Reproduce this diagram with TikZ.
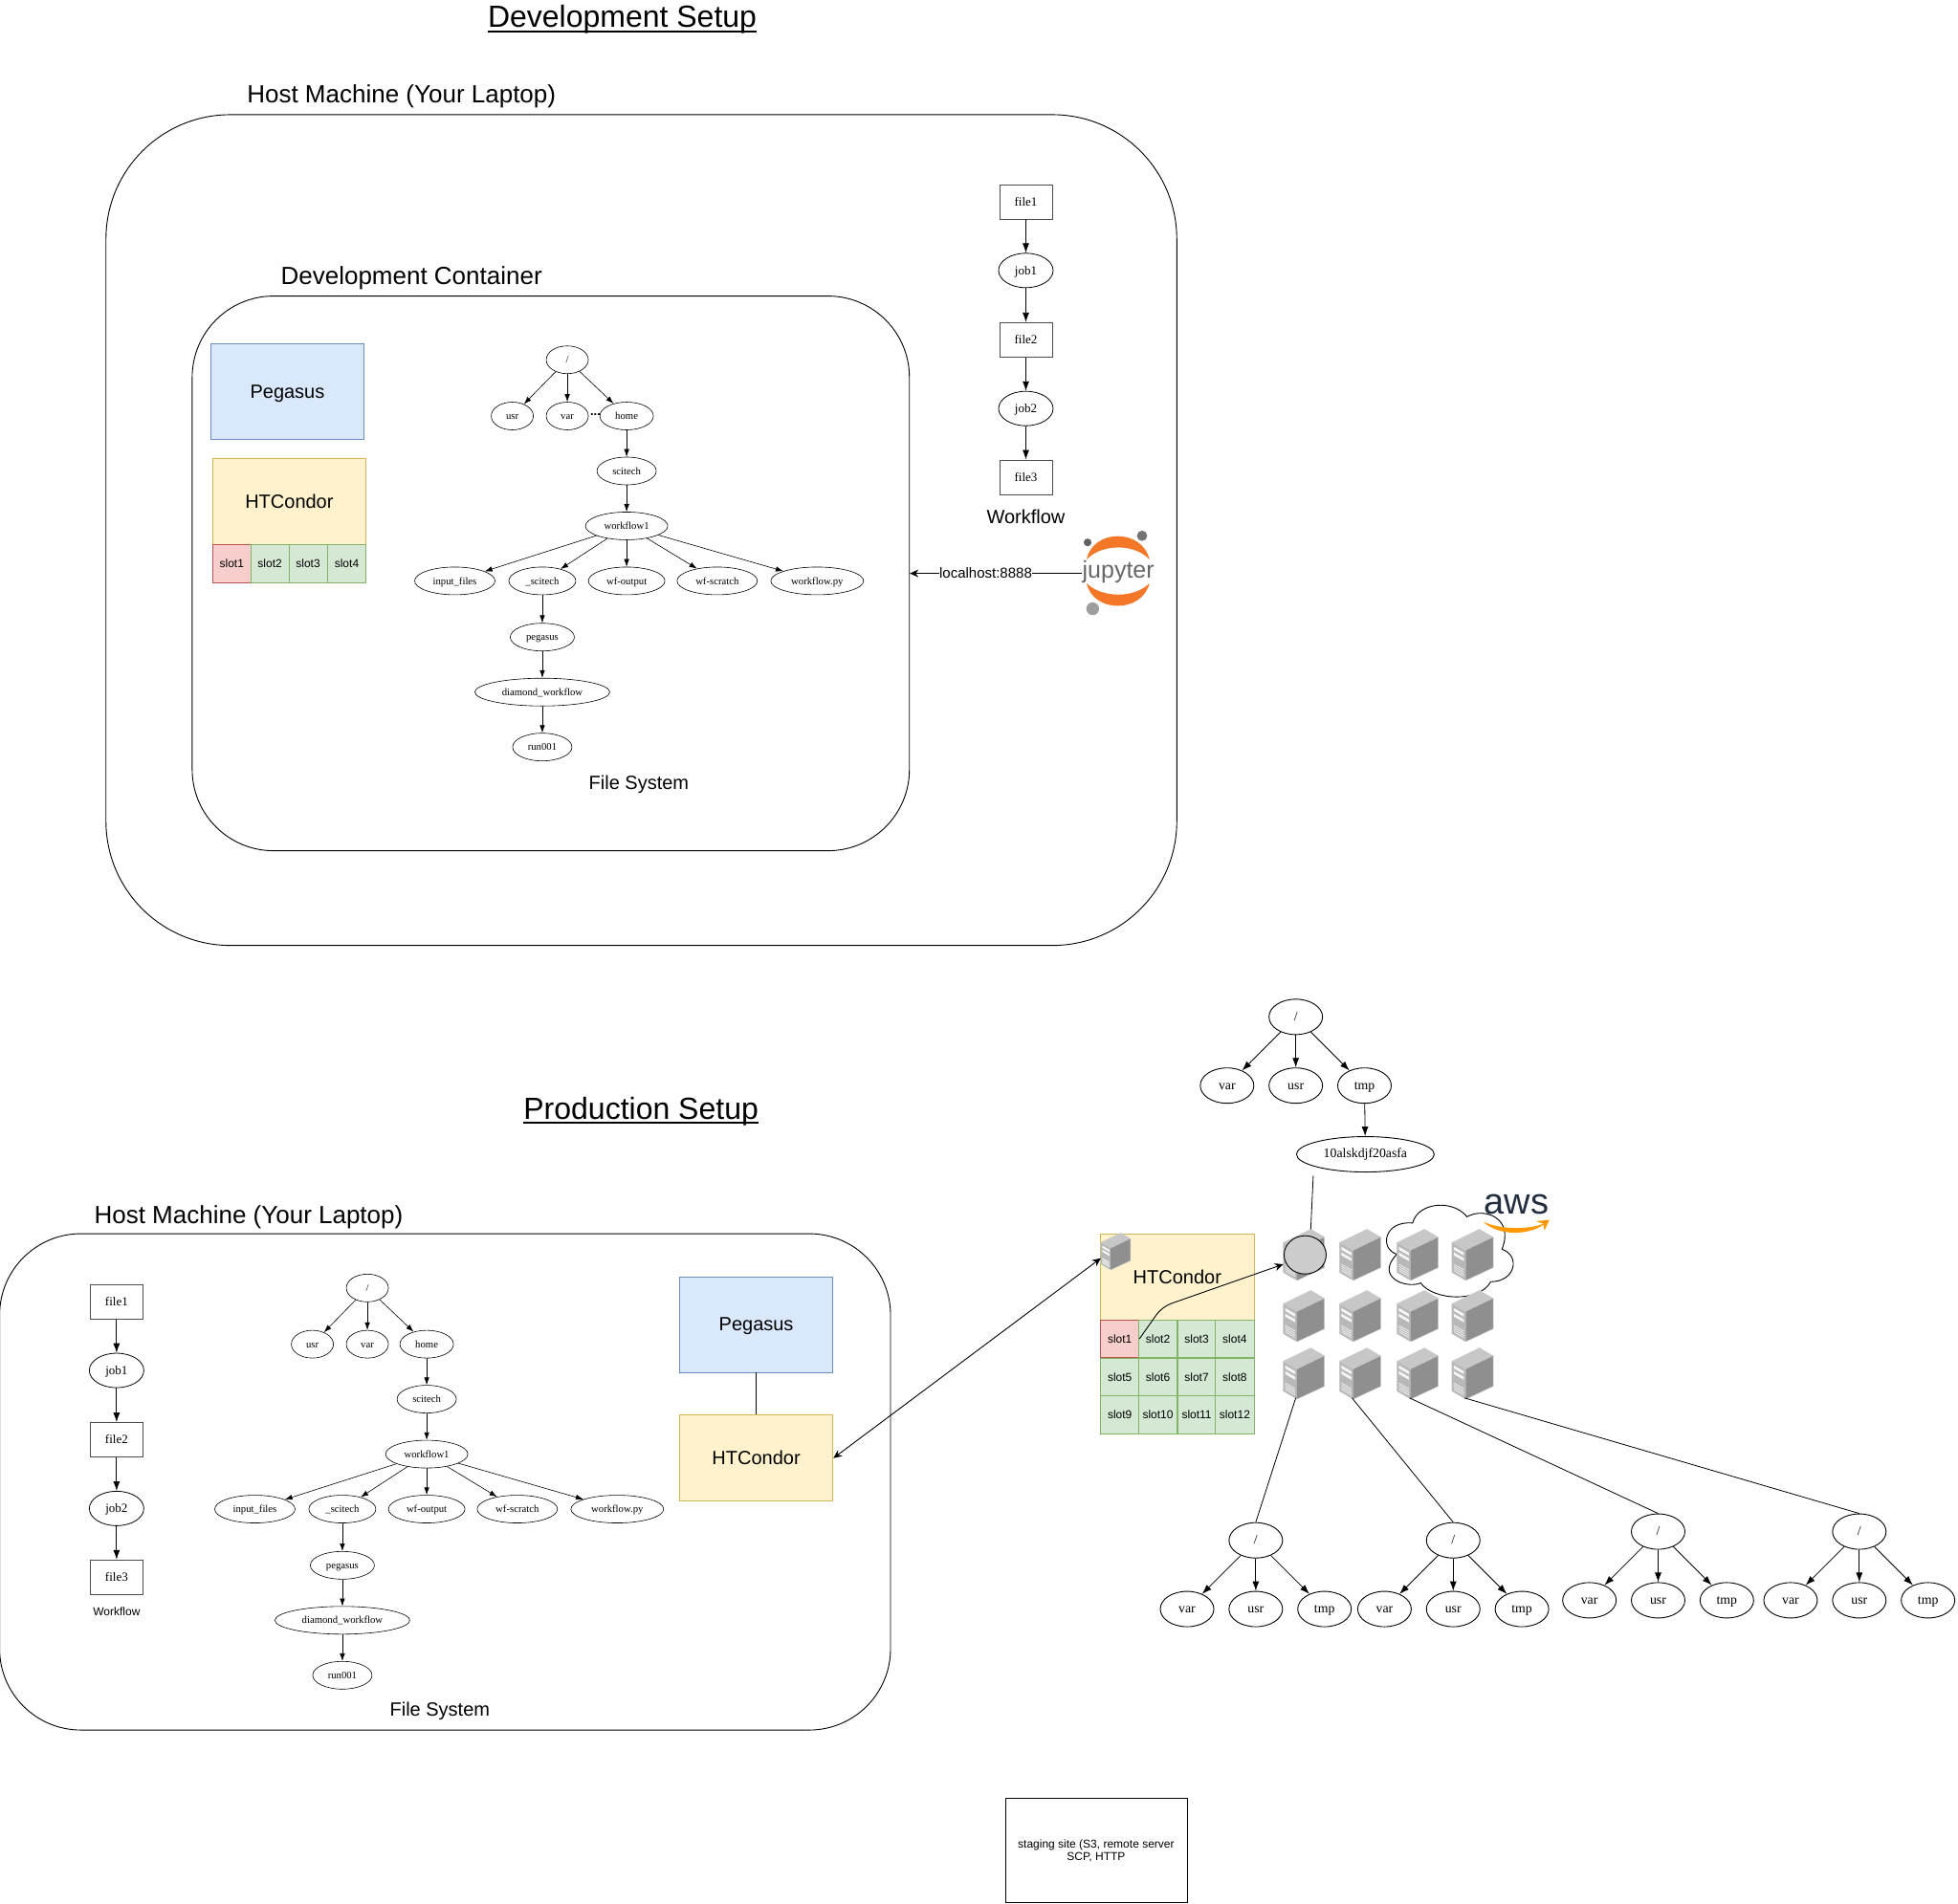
\documentclass[tikz,border=0pt]{standalone}
\usepackage{fontspec}
\usetikzlibrary{arrows.meta,shapes.geometric}
\setmainfont{Liberation Sans}
\newfontfamily\timesfont{Liberation Serif}
\newcommand{\fsize}[1]{\fontsize{#1}{#1}\selectfont}
% underline that lets the descenders hang through
\newcommand{\ultext}[1]{\setbox0=\hbox{#1}\rlap{\rule[-5.4pt]{\wd0}{2pt}}\box0}

\definecolor{bluefill}{HTML}{DAE8FC}
\definecolor{bluedraw}{HTML}{6C8EBF}
\definecolor{yellowfill}{HTML}{FFF2CC}
\definecolor{yellowdraw}{HTML}{D6B656}
\definecolor{greenfill}{HTML}{D5E8D4}
\definecolor{greendraw}{HTML}{82B366}
\definecolor{redfill}{HTML}{F8CECC}
\definecolor{reddraw}{HTML}{B85450}
\definecolor{jupyterorange}{HTML}{F37726}
\definecolor{awsnavy}{HTML}{232F3E}
\definecolor{awsorange}{HTML}{FF9900}

\tikzset{
    title/.style={anchor=base,inner sep=0pt,font=\fsize{32}},
    heading/.style={font=\fsize{26}},
    caption/.style={font=\fsize{20}},
    hostbox/.style={draw,line width=.9pt,rounded corners=#1,inner sep=0pt},
    pegasusbox/.style={draw=bluedraw,fill=bluefill,line width=.9pt,inner sep=0pt,font=\fsize{20},
        text depth=0pt,minimum width=160.5pt,minimum height=100pt},
    condorbox/.style={draw=yellowdraw,fill=yellowfill,line width=.9pt,inner sep=0pt,font=\fsize{20},
        minimum width=160.5pt,minimum height=90pt},
    slotbox/.style={draw=greendraw,fill=greenfill,line width=.9pt,inner sep=0pt,font=\fsize{12},
        minimum width=40.1pt,minimum height=39.7pt},
    busyslot/.style={slotbox,draw=reddraw,fill=redfill},
    fsnode/.style={draw,ellipse,inner sep=0pt,line width=.6pt,font=\timesfont\fsize{10.7},
        text height=9.4pt,text depth=2.2pt,minimum height=29pt},
    fsarrow/.style={-{Latex[length=8pt,width=5.5pt]},line width=.6pt},
    jobnode/.style={draw,ellipse,inner sep=0pt,line width=.8pt,font=\timesfont\fsize{13},
        text height=11pt,text depth=2.6pt,minimum width=57pt,minimum height=36pt},
    filenode/.style={draw=black!70,rectangle,inner sep=0pt,line width=.9pt,font=\timesfont\fsize{13},
        text height=11pt,text depth=2.6pt,minimum width=55pt,minimum height=36pt},
    wfarrow/.style={-{Latex[length=10pt,width=7pt]},line width=.8pt},
    dirnode/.style={draw,ellipse,inner sep=0pt,line width=.9pt,font=\timesfont\fsize{13.8},
        text height=10.6pt,text depth=2.8pt,minimum width=56pt,minimum height=37pt},
    conn/.style={-{Stealth[length=9pt,width=8pt]},line width=.9pt},
    server/.pic={
        \fill[black!22] (0,10.7) -- (22,0) -- (33,6.4) -- (11,17) -- cycle;
        \fill[black!28] (0,10.7) -- (11,17) -- (11,41) -- (0,34.6) -- cycle;
        \fill[black!44] (11,17) -- (33,6.4) -- (33,30.7) -- (11,41) -- cycle;
        \draw[black!20,line width=.5pt,line join=round] (0,10.7) -- (22,0) -- (33,6.4) -- (33,30.7)
            -- (11,41) -- (0,34.6) -- cycle;
        \foreach \y in {14,18.5}
            \fill[black!4] (1.5,\y) -- (9.5,\y+4.6) -- (9.5,\y+7) -- (1.5,\y+2.4) -- cycle;
        \foreach \y in {28,29.7,31.4,33.1}
            \draw[black!4,line width=.7pt] (1.5,\y) -- (9.5,\y+4.6);
        \coordinate (-bot) at (10,40);
        \coordinate (-top) at (22,0);
        \coordinate (-left) at (0,28);
    }
}

% one copy of the project folder tree
\newcommand{\projecttree}[3]{
    \begin{scope}[shift={(#2,#3)}]
        \node[fsnode,minimum width=44pt] (#1root) at (0,0) {/};
        \foreach \nm/\x/\y/\w/\txt in {
            usr/-44/45/44/usr, var/0/45/44/var, home/47.5/45/56/home,
            scitech/47.5/89/62/scitech, wf/47.5/133/86/workflow1,
            inputs/-90/177/84/input\_files, scratch/-20/177/70/\_scitech,
            output/47.5/177/80/wf-output, wfscratch/120/177/84/wf-scratch,
            wfpy/200/177/97/workflow.py, peg/-20/222/67/pegasus,
            diamond/-20/266/141/diamond\_workflow, run/-20/310/62/run001}
            \node[fsnode,minimum width=\w pt] (#1\nm) at (\x,\y) {\txt};
        \foreach \a/\b in {root/usr,root/var,root/home,home/scitech,scitech/wf,
            wf/inputs,wf/scratch,wf/output,wf/wfscratch,wf/wfpy,
            scratch/peg,peg/diamond,diamond/run}
            \draw[fsarrow] (#1\a) -- (#1\b);
    \end{scope}
}

% the small workflow chain
\newcommand{\workflowchain}[3]{
    \node[filenode] (#1f1) at (#2,#3) {file1};
    \node[jobnode] (#1j1) at (#2,#3+55) {job1};
    \node[filenode] (#1f2) at (#2,#3+110.5) {file2};
    \node[jobnode] (#1j2) at (#2,#3+165.5) {job2};
    \node[filenode] (#1f3) at (#2,#3+220.5) {file3};
    \draw[wfarrow] (#1f1) -- (#1j1);
    \draw[wfarrow] (#1j1) -- (#1f2);
    \draw[wfarrow] (#1f2) -- (#1j2);
    \draw[wfarrow] (#1j2) -- (#1f3);
}

% scratch disk of one worker
\newcommand{\workertree}[3]{
    \node[dirnode] (#1root) at (#2,#3) {/};
    \node[dirnode] (#1var) at (#2-55,#3+55) {var};
    \node[dirnode] (#1usr) at (#2,#3+55) {usr};
    \node[dirnode] (#1tmp) at (#2+55,#3+55) {tmp};
    \draw[wfarrow] (#1root) -- (#1var);
    \draw[wfarrow] (#1root) -- (#1usr);
    \draw[wfarrow] (#1root) -- (#1tmp);
}

\begin{document}
\begin{tikzpicture}[x=1.3063pt,y=-1.3063pt]
    \useasboundingbox (0,0) rectangle (1567,1523.4);

    % development setup
    \node[title] (devtitle) at (498,21.7) {\ultext{Development Setup}};
    \node[hostbox=130pt,minimum width=1119.5pt,minimum height=868.7pt] (devhost) at (513.3,424.3) {};
    \node[heading] (devhostlabel) at (321.3,77.5) {Host Machine (Your Laptop)};
    \node[hostbox=85pt,minimum width=749.8pt,minimum height=580pt] (devcontainer) at (440.8,459) {};
    \node[heading] (devcontainerlabel) at (329.3,222.5) {Development Container};

    \node[pegasusbox] (devpegasus) at (230,313.7) {Pegasus};
    \node[condorbox] (devcondor) at (231.5,401.5) {HTCondor};
    \node[busyslot] (devslot1) at (185.5,451.2) {slot1};
    \foreach \n/\x in {2/216,3/246.5,4/277.5}
        \node[slotbox] (devslot\n) at (\x,451.2) {slot\n};

    \projecttree{dev}{454}{288}
    \node[inner sep=0pt,font=\bfseries\fsize{13}] (devdots) at (476.5,331.5) {...};
    \node[caption] (devfslabel) at (511.3,628) {File System};

    \workflowchain{dev}{821}{161.5}
    \node[caption] (devwflabel) at (821,414) {Workflow};

    % jupyter logo, drawn by hand
    \fill[jupyterorange] (869.6,447.8) .. controls (875,423) and (914,423) .. (919.9,447.8)
        .. controls (908,435) and (882,435) .. (869.6,447.8) -- cycle;
    \fill[jupyterorange] (869.6,466.9) .. controls (875,491) and (914,491) .. (919.9,466.9)
        .. controls (908,479) and (882,479) .. (869.6,466.9) -- cycle;
    \fill[black!62] (870.4,434.2) circle (3.1);
    \fill[black!55] (914,428.9) circle (4.1);
    \fill[black!38] (874.5,487.3) circle (5.1);
    \node[anchor=base,inner sep=0pt,text=black!60,font=\fsize{25}] (jupyter) at (895,463) {jupyter};
    \draw[conn] (jupyter.west |- devcontainer.east) -- (devcontainer.east)
        node[pos=.56,fill=white,inner sep=0pt,font=\fsize{15}] (jupyterlink) {localhost:8888};

    % production setup
    \node[title] (prodtitle) at (513,895.7) {\ultext{Production Setup}};
    \node[hostbox=85pt,minimum width=931.4pt,minimum height=519pt] (prodhost) at (356.2,1186.2) {};
    \node[heading] (prodhostlabel) at (199,974.5) {Host Machine (Your Laptop)};

    \workflowchain{prod}{93.3}{1042}
    \node[font=\fsize{12}] (prodwflabel) at (93.3,1290) {Workflow};
    \projecttree{prod}{294}{1031}
    \node[caption] (prodfslabel) at (352,1370) {File System};

    \node[pegasusbox] (prodpegasus) at (605.2,1060.2) {Pegasus};
    \node[condorbox] (prodcondor) at (605.2,1167.2) {HTCondor};
    \draw[line width=.9pt] (prodpegasus) -- (prodcondor);

    % cluster side
    \node[condorbox] (clustercondor) at (942.2,1022.2) {HTCondor};
    \node[busyslot] (slot1) at (896.2,1071.7) {slot1};
    \foreach \n/\x/\y in {2/926.7/1071.7,3/957.7/1071.7,4/988.2/1071.7,
        5/896.2/1102.2,6/926.7/1102.2,7/957.7/1102.2,8/988.2/1102.2,
        9/896.2/1132.7,10/926.7/1132.7,11/957.7/1132.7,12/988.2/1132.7}
        \node[slotbox] (slot\n) at (\x,\y) {slot\n};
    \pic[scale=.72] (s0) at (881,987) {server};

    % aws cloud sits behind the workers
    \draw[fill=white,line width=.9pt] (1118,1004) .. controls (1104,1000) and (1107,977) .. (1130.5,979)
        .. controls (1135,962) and (1163,960) .. (1174,974)
        .. controls (1188,966) and (1212,975) .. (1202,1000)
        .. controls (1217,1005) and (1213,1026) .. (1193,1026)
        .. controls (1184,1043) and (1147,1041) .. (1137,1027)
        .. controls (1125,1032) and (1100,1022) .. (1118,1004) -- cycle;
    \node[anchor=base,inner sep=0pt,text=awsnavy,font=\fsize{38}] (awslabel) at (1213.5,972) {aws};
    \fill[awsorange] (1187,978) .. controls (1200,990) and (1225,989) .. (1237,979)
        .. controls (1225,984) and (1203,985) .. (1187,978) -- cycle;
    \fill[awsorange] (1229,977.5) -- (1240,976.5) -- (1236,985) -- (1235,979.5) -- cycle;

    \foreach \n/\x/\y in {1/1027/984,2/1072/984,3/1118/984,4/1162/984,
        5/1027/1033,6/1072/1033,7/1118/1033,8/1162/1033,
        9/1027/1079,10/1072/1079,11/1118/1079,12/1162/1079}
        \pic (s\n) at (\x,\y) {server};
    \node[draw,ellipse,fill=black!20,line width=.9pt,inner sep=0pt,minimum width=44pt,minimum height=40pt]
        (disk) at (1044.5,1004.5) {};

    % scratch disk on the first worker
    \workertree{top}{1037}{814}
    \node[dirnode,minimum width=144pt] (hash) at (1092.7,924) {10alskdjf20asfa};
    \draw[wfarrow] (toptmp) -- (hash);
    \coordinate (hashend) at (1051,941);
    \draw[line width=.8pt] (hashend) -- (s1-top);

    \workertree{a}{1005}{1233}
    \workertree{b}{1163}{1233}
    \workertree{c}{1327}{1226}
    \workertree{d}{1488}{1226}
    \draw[line width=.8pt] (s9-bot) -- (aroot.north);
    \draw[line width=.8pt] (s10-bot) -- (broot.north);
    \draw[line width=.8pt] (s11-bot) -- (croot.north);
    \draw[line width=.8pt] (s12-bot) -- (droot.north);

    \draw[conn,{Stealth[length=9pt,width=8pt]}-{Stealth[length=9pt,width=8pt]}] (prodcondor.east) -- (s0-left);
    \coordinate (slotbend) at (930,1046);
    \draw[conn,rounded corners=10pt] (slot1.east) -- (slotbend) -- (s1-left);

    \node[draw,line width=.8pt,inner sep=0pt,align=center,font=\fsize{12},
        minimum width=190pt,minimum height=108.5pt] (staging) at (877.2,1481.2)
        {staging site (S3, remote server\\[1pt]SCP, HTTP};
\end{tikzpicture}
\end{document}
